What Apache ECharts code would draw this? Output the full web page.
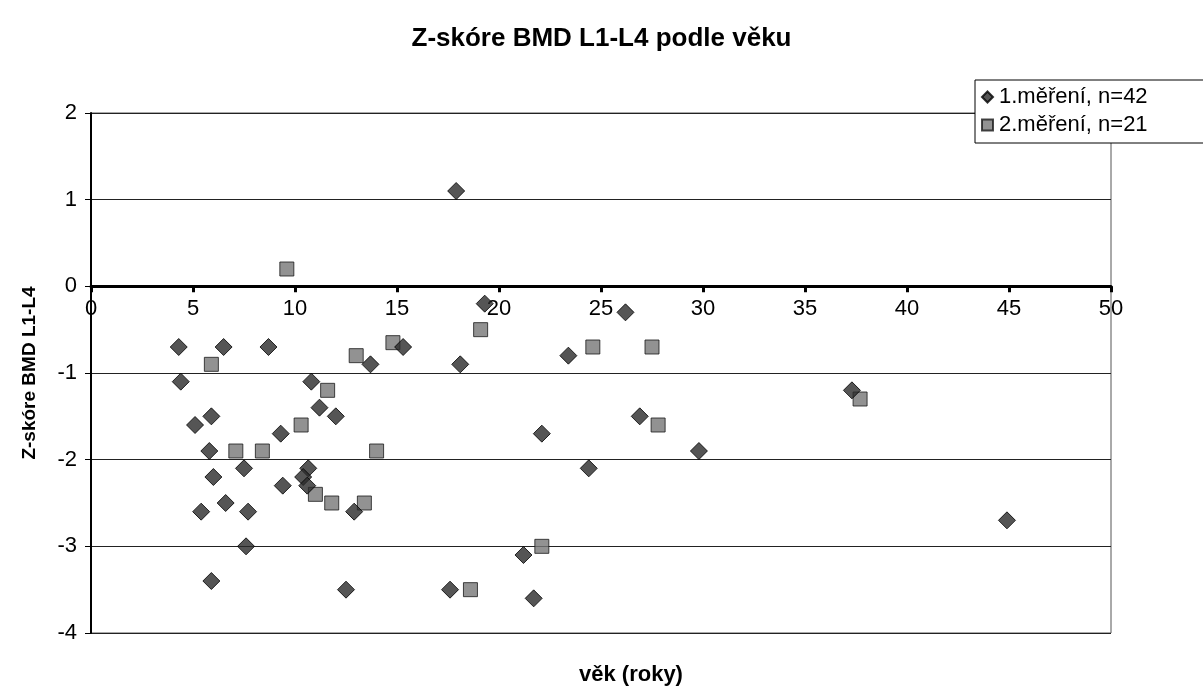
<!DOCTYPE html>
<html>
<head>
<meta charset="utf-8">
<script src="https://cdn.jsdelivr.net/npm/echarts@6/dist/echarts.min.js"></script>
<style>
  html, body { margin: 0; padding: 0; background: #ffffff; }
  #chart { width: 1203px; height: 691px; }
</style>
</head>
<body>
<div id="chart"></div>
<script>
// Z-score of lumbar spine BMD (L1-L4) against age, two measurement rounds
const seriesNames = ['1.měření, n=42', '2.měření, n=21'];

// first measurement: [age in years, Z-score]
const mereni1 = [
  [4.3, -0.7], [4.4, -1.1], [5.1, -1.6], [5.4, -2.6], [5.8, -1.9],
  [5.9, -1.5], [5.9, -3.4], [6.0, -2.2], [6.5, -0.7], [6.6, -2.5],
  [7.5, -2.1], [7.6, -3.0], [7.7, -2.6], [8.7, -0.7], [9.3, -1.7],
  [9.4, -2.3], [10.65, -2.1], [10.4, -2.2], [10.6, -2.3], [10.8, -1.1],
  [11.2, -1.4], [12.0, -1.5], [12.5, -3.5], [12.9, -2.6], [13.7, -0.9],
  [15.3, -0.7], [17.6, -3.5], [17.9, 1.1], [18.1, -0.9], [19.3, -0.2],
  [21.2, -3.1], [21.7, -3.6], [22.1, -1.7], [23.4, -0.8], [24.4, -2.1],
  [26.2, -0.3], [26.9, -1.5], [29.8, -1.9], [37.3, -1.2], [44.9, -2.7]
];

// second measurement: [age in years, Z-score]
const mereni2 = [
  [5.9, -0.9], [7.1, -1.9], [8.4, -1.9], [9.6, 0.2], [10.3, -1.6],
  [11.0, -2.4], [11.6, -1.2], [11.8, -2.5], [13.0, -0.8], [13.4, -2.5],
  [14.0, -1.9], [14.8, -0.65], [18.6, -3.5], [19.1, -0.5], [22.1, -3.0],
  [24.6, -0.7], [27.5, -0.7], [27.8, -1.6], [37.7, -1.3]
];

const xTicks = { min: 0, max: 50, step: 5 };
const yTicks = { min: -4, max: 2, step: 1 };

const FONT = '"Liberation Sans", Arial, sans-serif';

// plot area box in pixels
const GRID = { left: 91, right: 92, top: 113, bottom: 58 };
const plotHeight = 691 - GRID.top - GRID.bottom;
// the age axis runs along Z = 0: lift it from the bottom edge by that share of the plot
const zeroLift = (0 - yTicks.min) / (yTicks.max - yTicks.min) * plotHeight;

const chart = echarts.init(document.getElementById('chart'), null, { renderer: 'canvas' });

chart.setOption({
  backgroundColor: '#ffffff',
  animation: false,
  title: [
    {
      text: 'Z-skóre BMD L1-L4 podle věku',
      left: 'center',
      top: 21,
      textStyle: { fontFamily: FONT, fontSize: 26, fontWeight: 'bold', color: '#000' }
    },
    {
      text: 'věk (roky)',
      left: 574,
      top: 659,
      textStyle: { fontFamily: FONT, fontSize: 22, fontWeight: 'bold', color: '#000' }
    }
  ],
  legend: {
    orient: 'vertical',
    left: 975,
    top: 80,
    itemGap: 6,
    itemWidth: 11,
    itemHeight: 11,
    padding: [6, 60, 7, 6],
    borderColor: '#000',
    borderWidth: 1,
    backgroundColor: '#fff',
    textStyle: { fontFamily: FONT, fontSize: 22, color: '#000', padding: [0, 0, 0, 1] },
    data: [
      { name: seriesNames[0], icon: 'diamond' },
      { name: seriesNames[1], icon: 'rect' }
    ]
  },
  grid: {
    left: GRID.left,
    right: GRID.right,
    top: GRID.top,
    bottom: GRID.bottom,
    show: true,
    borderColor: '#555',
    borderWidth: 1
  },
  xAxis: {
    type: 'value',
    position: 'bottom',
    offset: -zeroLift,
    min: xTicks.min,
    max: xTicks.max,
    interval: xTicks.step,
    axisLine: { onZero: false, lineStyle: { color: '#000', width: 3 } },
    axisTick: { show: true, inside: false, length: 6, lineStyle: { color: '#000', width: 3 } },
    axisLabel: { margin: 12, fontFamily: FONT, fontSize: 22, color: '#000' },
    splitLine: { show: false }
  },
  yAxis: {
    type: 'value',
    min: yTicks.min,
    max: yTicks.max,
    interval: yTicks.step,
    name: 'Z-skóre BMD L1-L4',
    nameLocation: 'middle',
    nameRotate: 90,
    nameGap: 52,
    nameTextStyle: { fontFamily: FONT, fontSize: 19, fontWeight: 'bold', color: '#000' },
    axisLine: { show: true, onZero: false, lineStyle: { color: '#000', width: 2 } },
    axisTick: { show: true, length: 6, lineStyle: { color: '#000', width: 1 } },
    axisLabel: { margin: 14, fontFamily: FONT, fontSize: 22, color: '#000' },
    splitLine: { show: true, lineStyle: { color: '#222', width: 1 } }
  },
  series: [
    {
      name: seriesNames[0],
      type: 'scatter',
      symbol: 'diamond',
      symbolSize: 17,
      data: mereni1,
      itemStyle: { color: '#2a2a2a', borderColor: '#000', borderWidth: 1 },
      z: 3
    },
    {
      name: seriesNames[1],
      type: 'scatter',
      symbol: 'rect',
      symbolSize: 14,
      data: mereni2,
      itemStyle: { color: '#777777', borderColor: '#1a1a1a', borderWidth: 1 },
      z: 2
    }
  ]
});
</script>
</body>
</html>
